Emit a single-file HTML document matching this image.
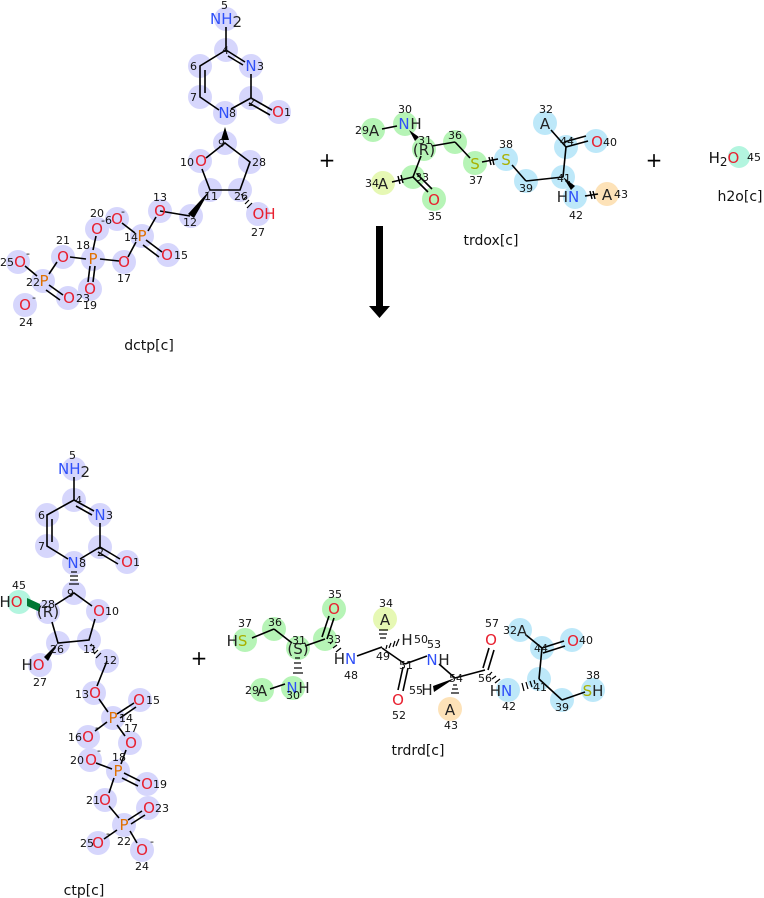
<!DOCTYPE html>
<html><head><meta charset="utf-8"><style>
html,body{margin:0;padding:0;background:#fff}
svg{display:block}
text{font-family:"DejaVu Sans","Liberation Sans",sans-serif}
.a{font-size:15px;text-anchor:middle}
.n{font-size:11px;fill:#111}
.N{fill:#3050f8}.O{fill:#e8202f}.P{fill:#e07000}.S{fill:#a8b000}.C{fill:#222}
.b line,.b polyline{stroke:#000;stroke-width:1.6;fill:none}
.lb{font-size:14px;text-anchor:middle;fill:#111}
</style></head><body>
<svg width="764" height="898" viewBox="0 0 764 898" xmlns="http://www.w3.org/2000/svg">
<!-- ===== dCTP ===== -->
<g fill="#d6d6fc">
<circle cx="226" cy="19" r="12"/><circle cx="226" cy="50" r="12"/><circle cx="251" cy="66" r="12"/><circle cx="251" cy="98" r="12"/><circle cx="279" cy="112" r="12"/><circle cx="225" cy="113" r="12"/><circle cx="200" cy="97" r="12"/><circle cx="200" cy="66" r="12"/><circle cx="225" cy="143" r="12"/><circle cx="200" cy="161" r="12"/><circle cx="250" cy="162" r="12"/><circle cx="210" cy="190" r="12"/><circle cx="240" cy="190" r="12"/><circle cx="258" cy="214" r="12"/><circle cx="191" cy="216" r="12"/><circle cx="160" cy="211" r="12"/><circle cx="142" cy="236" r="12"/><circle cx="168" cy="255" r="12"/><circle cx="117" cy="219" r="12"/><circle cx="97" cy="229" r="12"/><circle cx="124" cy="262" r="12"/><circle cx="93" cy="259" r="12"/><circle cx="90" cy="289" r="12"/><circle cx="63" cy="257" r="12"/><circle cx="43" cy="281" r="12"/><circle cx="68" cy="298" r="12"/><circle cx="18" cy="262" r="12"/><circle cx="25" cy="305" r="12"/>
</g>
<g class="b">
<line x1="226" y1="27" x2="226" y2="50"/><polyline points="251,74 251,98 231,109"/><line x1="226" y1="50" x2="245" y2="62"/><line x1="228" y1="56" x2="243" y2="65"/>
<polyline points="219,110 200,97 200,66 226,50"/><line x1="205" y1="93" x2="205" y2="70"/>
<line x1="251" y1="98" x2="272" y2="110"/><line x1="249" y1="103" x2="270" y2="115"/>
<polyline points="206,158 225,143 250,162 240,190 210,190 202,169"/>
<line x1="160" y1="211" x2="190" y2="216"/>
<line x1="148" y1="231" x2="156" y2="217"/><line x1="146" y1="240" x2="162" y2="252"/><line x1="143" y1="245" x2="159" y2="257"/>
<line x1="135" y1="233" x2="122" y2="223"/><line x1="136" y1="242" x2="128" y2="257"/>
<line x1="119" y1="261" x2="100" y2="259"/><line x1="93" y1="250" x2="96" y2="236"/><line x1="90" y1="266" x2="88" y2="282"/><line x1="95" y1="266" x2="93" y2="282"/>
<line x1="86" y1="259" x2="70" y2="257"/><line x1="57" y1="262" x2="49" y2="274"/><line x1="49" y1="285" x2="63" y2="295"/><line x1="46" y1="290" x2="60" y2="300"/><line x1="25" y1="266" x2="37" y2="276"/>
</g>
<polygon points="225,127 221,140 229,140" fill="#000"/>
<polygon points="210,190 188,214 194,218" fill="#000"/>
<g stroke="#000" stroke-width="1.2"><line x1="243" y1="194" x2="241" y2="195"/><line x1="246" y1="197" x2="243" y2="200"/><line x1="249" y1="200" x2="245" y2="204"/><line x1="252" y1="203" x2="247" y2="208"/></g>
<text class="a N" x="226" y="24">NH<tspan class="C" dy="3">2</tspan></text>
<text class="n" x="221" y="9">5</text><text class="n" x="222" y="54">4</text>
<text class="a N" x="251" y="71">N</text><text class="n" x="257" y="70">3</text>
<text class="n" x="248" y="106">2</text>
<text class="a O" x="278" y="117">O</text><text class="n" x="284" y="116">1</text>
<text class="a N" x="224" y="118">N</text><text class="n" x="229" y="117">8</text>
<text class="n" x="190" y="101">7</text><text class="n" x="190" y="70">6</text>
<text class="n" x="218" y="147">9</text>
<text class="a O" x="201" y="166">O</text><text class="n" x="180" y="166">10</text>
<text class="n" x="252" y="166">28</text><text class="n" x="204" y="200">11</text><text class="n" x="234" y="200">26</text>
<text class="a O" x="264" y="219">OH</text><text class="n" x="251" y="236">27</text>
<text class="n" x="183" y="226">12</text>
<text class="a O" x="160" y="216">O</text><text class="n" x="153" y="201">13</text>
<text class="a P" x="142" y="241">P</text><text class="n" x="124" y="241">14</text>
<text class="a O" x="167" y="260">O</text><text class="n" x="174" y="259">15</text>
<text class="a O" x="117" y="224">O</text><text class="n" x="121" y="215">-</text>
<text class="n" x="90" y="217">20</text><text class="n" x="101" y="224">-6</text>
<text class="a O" x="97" y="234">O</text>
<text class="a O" x="124" y="267">O</text><text class="n" x="117" y="282">17</text>
<text class="a P" x="93" y="264">P</text><text class="n" x="76" y="249">18</text>
<text class="a O" x="90" y="294">O</text><text class="n" x="83" y="309">19</text>
<text class="a O" x="63" y="262">O</text><text class="n" x="56" y="244">21</text>
<text class="a P" x="44" y="286">P</text><text class="n" x="26" y="286">22</text>
<text class="a O" x="69" y="303">O</text><text class="n" x="76" y="302">23</text>
<text class="a O" x="20" y="267">O</text><text class="n" x="0" y="266">25</text><text class="n" x="26" y="257">-</text>
<text class="a O" x="25" y="310">O</text><text class="n" x="32" y="301">-</text><text class="n" x="19" y="326">24</text>
<text class="lb" x="149" y="350">dctp[c]</text>

<text x="327" y="167" font-size="20" text-anchor="middle">+</text>
<rect x="376" y="226" width="7" height="84" fill="#000"/><polygon points="369,306 390,306 379.5,318" fill="#000"/>
<text x="654" y="167" font-size="20" text-anchor="middle">+</text>
<circle cx="739" cy="157" r="11" fill="#b3f5df"/>
<text class="a" x="724" y="163" fill="#111">H<tspan font-size="12" dy="3">2</tspan><tspan class="O" dy="-3">O</tspan></text><text class="n" x="747" y="161">45</text>
<text class="lb" x="740" y="201">h2o[c]</text>

<!-- ===== trdox ===== -->
<g fill="#b6f4b6"><circle cx="373" cy="130" r="12"/><circle cx="405" cy="124" r="12"/><circle cx="424" cy="149" r="12"/><circle cx="455" cy="142" r="12"/><circle cx="475" cy="163" r="12"/><circle cx="413" cy="177" r="12"/><circle cx="434" cy="199" r="12"/></g>
<circle cx="383" cy="183" r="12" fill="#e6f8b4"/>
<g fill="#bde8f9"><circle cx="506" cy="159" r="12"/><circle cx="526" cy="181" r="12"/><circle cx="563" cy="177" r="12"/><circle cx="566" cy="147" r="12"/><circle cx="596" cy="141" r="12"/><circle cx="545" cy="123" r="12"/><circle cx="575" cy="197" r="12"/></g>
<circle cx="607" cy="194" r="12" fill="#fde2b8"/>
<g class="b">
<line x1="382" y1="129" x2="397" y2="126"/><line x1="432" y1="146" x2="455" y2="142"/><line x1="455" y1="142" x2="470" y2="158"/>
<line x1="482" y1="162" x2="498" y2="159"/><line x1="512" y1="165" x2="526" y2="181"/><line x1="526" y1="181" x2="563" y2="177"/>
<line x1="563" y1="177" x2="566" y2="147"/><line x1="551" y1="130" x2="566" y2="147"/><line x1="566" y1="147" x2="588" y2="141"/><line x1="564" y1="142" x2="586" y2="136"/>
<line x1="421" y1="156" x2="413" y2="177"/><line x1="413" y1="177" x2="392" y2="182"/><line x1="413" y1="177" x2="428" y2="192"/><line x1="417" y1="174" x2="432" y2="189"/>
<line x1="585" y1="196" x2="598" y2="194"/>
</g>
<polygon points="409,130 415,141 419,137" fill="#000"/>
<polygon points="563,177 571,190 575,186" fill="#000"/>
<g stroke="#000" stroke-width="1.4"><line x1="398" y1="176" x2="400" y2="184"/><line x1="401" y1="175" x2="403" y2="183"/><line x1="489" y1="157" x2="491" y2="165"/><line x1="492" y1="157" x2="494" y2="165"/><line x1="590" y1="191" x2="592" y2="199"/><line x1="593" y1="191" x2="595" y2="199"/></g>
<text class="a C" x="374" y="136">A</text><text class="n" x="355" y="134">29</text>
<text class="a N" x="404" y="129">N</text><text class="a C" x="416" y="129">H</text><text class="n" x="398" y="113">30</text>
<text class="a C" x="424" y="155" fill="#445">(R)</text><text class="n" x="418" y="144">31</text>
<text class="n" x="448" y="139">36</text>
<text class="a S" x="475" y="169">S</text><text class="n" x="469" y="184">37</text>
<text class="a S" x="506" y="165">S</text><text class="n" x="499" y="148">38</text>
<text class="n" x="519" y="192">39</text>
<text class="a C" x="545" y="129">A</text><text class="n" x="539" y="113">32</text>
<text class="n" x="560" y="145">44</text>
<text class="a O" x="597" y="147">O</text><text class="n" x="603" y="146">40</text>
<text class="n" x="557" y="182">41</text>
<text class="a C" x="568" y="202">H<tspan class="N">N</tspan></text><text class="n" x="569" y="219">42</text>
<text class="a C" x="607" y="200">A</text><text class="n" x="614" y="198">43</text>
<text class="n" x="415" y="181">33</text>
<text class="a C" x="383" y="189">A</text><text class="n" x="365" y="187">34</text>
<text class="a O" x="434" y="205">O</text><text class="n" x="428" y="220">35</text>
<text class="lb" x="491" y="245">trdox[c]</text>

<!-- ===== CTP ===== -->
<g fill="#d6d6fc">
<circle cx="74" cy="469" r="12"/><circle cx="74" cy="500" r="12"/><circle cx="100" cy="515" r="12"/><circle cx="100" cy="547" r="12"/><circle cx="127" cy="562" r="12"/><circle cx="74" cy="563" r="12"/><circle cx="47" cy="546" r="12"/><circle cx="47" cy="515" r="12"/><circle cx="74" cy="593" r="12"/><circle cx="48" cy="612" r="12"/><circle cx="98" cy="611" r="12"/><circle cx="58" cy="643" r="12"/><circle cx="89" cy="640" r="12"/><circle cx="40" cy="665" r="12"/><circle cx="107" cy="661" r="12"/><circle cx="94" cy="693" r="12"/><circle cx="140" cy="700" r="12"/><circle cx="113" cy="718" r="12"/><circle cx="88" cy="737" r="12"/><circle cx="130" cy="743" r="12"/><circle cx="90" cy="760" r="12"/><circle cx="118" cy="771" r="12"/><circle cx="147" cy="784" r="12"/><circle cx="105" cy="800" r="12"/><circle cx="148" cy="808" r="12"/><circle cx="124" cy="825" r="12"/><circle cx="98" cy="843" r="12"/><circle cx="142" cy="850" r="12"/>
</g>
<circle cx="19" cy="602" r="12" fill="#b3f5df"/>
<g class="b">
<line x1="74" y1="477" x2="74" y2="500"/><polyline points="100,523 100,547 80,559"/><line x1="74" y1="500" x2="94" y2="511"/><line x1="76" y1="506" x2="92" y2="515"/>
<polyline points="68,559 47,546 47,515 74,500"/><line x1="52" y1="542" x2="52" y2="519"/>
<line x1="100" y1="547" x2="120" y2="559"/><line x1="98" y1="552" x2="118" y2="564"/>
<polyline points="92,606 74,593 55,605"/><polyline points="52,622 58,643 89,640 95,619"/>
<line x1="107" y1="661" x2="97" y2="686"/><line x1="99" y1="699" x2="108" y2="712"/><line x1="117" y1="714" x2="134" y2="703"/><line x1="120" y1="718" x2="136" y2="707"/>
<line x1="107" y1="722" x2="95" y2="731"/><line x1="117" y1="725" x2="125" y2="736"/><line x1="126" y1="750" x2="121" y2="764"/>
<line x1="96" y1="763" x2="112" y2="769"/><line x1="124" y1="773" x2="140" y2="781"/><line x1="122" y1="778" x2="138" y2="786"/>
<line x1="114" y1="778" x2="109" y2="793"/><line x1="109" y1="806" x2="119" y2="818"/><line x1="128" y1="820" x2="142" y2="811"/><line x1="131" y1="824" x2="145" y2="815"/>
<line x1="117" y1="830" x2="104" y2="839"/><line x1="130" y1="831" x2="137" y2="843"/>
</g>
<g stroke="#000" stroke-width="1.2"><line x1="71" y1="572" x2="77" y2="572"/><line x1="70" y1="576" x2="78" y2="576"/><line x1="70" y1="580" x2="78" y2="580"/><line x1="69" y1="584" x2="79" y2="584"/>
<line x1="92" y1="644" x2="90" y2="646"/><line x1="95" y1="647" x2="92" y2="650"/><line x1="98" y1="650" x2="94" y2="654"/><line x1="101" y1="653" x2="96" y2="658"/></g>
<polygon points="40,607 29,602 30,606 40,611" fill="#000"/><polygon points="27,598 40,604 40,612 27,606" fill="#073"/>
<polygon points="58,643 44,657 48,661" fill="#000"/>
<text class="a N" x="74" y="474">NH<tspan class="C" dy="3">2</tspan></text>
<text class="n" x="69" y="459">5</text><text class="n" x="75" y="504">4</text>
<text class="a N" x="100" y="520">N</text><text class="n" x="106" y="519">3</text>
<text class="n" x="97" y="556">2</text>
<text class="a O" x="127" y="567">O</text><text class="n" x="133" y="566">1</text>
<text class="a N" x="73" y="568">N</text><text class="n" x="79" y="567">8</text>
<text class="n" x="38" y="550">7</text><text class="n" x="38" y="519">6</text>
<text class="n" x="67" y="597">9</text>
<text class="a C" x="11" y="607">H<tspan class="O">O</tspan></text><text class="n" x="12" y="589">45</text>
<text class="a C" x="48" y="617" fill="#445">(R)</text><text class="n" x="41" y="608">28</text>
<text class="a O" x="99" y="616">O</text><text class="n" x="105" y="615">10</text>
<text class="n" x="50" y="653">26</text><text class="n" x="83" y="653">11</text><text class="n" x="103" y="664">12</text>
<text class="a C" x="33" y="670">H<tspan class="O">O</tspan></text><text class="n" x="33" y="686">27</text>
<text class="a O" x="95" y="698">O</text><text class="n" x="75" y="698">13</text>
<text class="a O" x="139" y="705">O</text><text class="n" x="146" y="704">15</text>
<text class="a P" x="113" y="723">P</text><text class="n" x="119" y="722">14</text><text class="n" x="124" y="732">17</text>
<text class="a O" x="88" y="742">O</text><text class="n" x="68" y="741">16</text><text class="n" x="95" y="731">-</text>
<text class="a O" x="131" y="748">O</text>
<text class="a O" x="91" y="765">O</text><text class="n" x="70" y="764">20</text><text class="n" x="97" y="754">-</text>
<text class="a P" x="118" y="776">P</text><text class="n" x="112" y="761">18</text>
<text class="a O" x="147" y="789">O</text><text class="n" x="153" y="788">19</text>
<text class="a O" x="105" y="805">O</text><text class="n" x="86" y="804">21</text>
<text class="a O" x="149" y="813">O</text><text class="n" x="155" y="812">23</text>
<text class="a P" x="124" y="830">P</text><text class="n" x="117" y="845">22</text>
<text class="a O" x="98" y="848">O</text><text class="n" x="80" y="847">25</text><text class="n" x="106" y="837">-</text>
<text class="a O" x="142" y="855">O</text><text class="n" x="150" y="845">-</text><text class="n" x="135" y="870">24</text>
<text class="lb" x="84" y="895">ctp[c]</text>

<text x="199" y="665" font-size="20" text-anchor="middle">+</text>

<!-- ===== trdrd ===== -->
<g fill="#b6f4b6"><circle cx="245" cy="640" r="12"/><circle cx="274" cy="629" r="12"/><circle cx="298" cy="648" r="12"/><circle cx="325" cy="639" r="12"/><circle cx="334" cy="609" r="12"/><circle cx="293" cy="688" r="12"/><circle cx="262" cy="690" r="12"/></g>
<circle cx="385" cy="619" r="12" fill="#e6f8b4"/>
<circle cx="450" cy="709" r="12" fill="#fde2b8"/>
<g fill="#bde8f9"><circle cx="508" cy="690" r="12"/><circle cx="539" cy="679" r="12"/><circle cx="542" cy="648" r="12"/><circle cx="520" cy="630" r="12"/><circle cx="572" cy="640" r="12"/><circle cx="562" cy="700" r="12"/><circle cx="593" cy="690" r="12"/></g>
<g class="b">
<line x1="252" y1="638" x2="274" y2="629"/><line x1="274" y1="629" x2="292" y2="643"/><line x1="305" y1="646" x2="325" y2="639"/>
<line x1="322" y1="637" x2="329" y2="616"/><line x1="327" y1="639" x2="334" y2="618"/>
<line x1="270" y1="689" x2="285" y2="684"/>
<line x1="357" y1="656" x2="382" y2="647"/><line x1="382" y1="648" x2="405" y2="664"/><line x1="405" y1="664" x2="427" y2="656"/>
<line x1="403" y1="667" x2="398" y2="690"/><line x1="408" y1="668" x2="403" y2="691"/>
<line x1="439" y1="664" x2="455" y2="678"/><line x1="455" y1="678" x2="485" y2="670"/>
<line x1="483" y1="668" x2="489" y2="648"/><line x1="488" y1="670" x2="494" y2="650"/>
<line x1="539" y1="679" x2="542" y2="648"/><line x1="526" y1="635" x2="542" y2="648"/><line x1="542" y1="648" x2="564" y2="641"/><line x1="543" y1="653" x2="565" y2="646"/>
<line x1="539" y1="679" x2="562" y2="700"/><line x1="562" y1="700" x2="585" y2="692"/>
</g>
<g stroke="#000" stroke-width="1.2">
<line x1="330" y1="644" x2="333" y2="641"/><line x1="333" y1="648" x2="337" y2="645"/><line x1="336" y1="652" x2="341" y2="648"/>
<line x1="380" y1="638" x2="386" y2="638"/><line x1="379" y1="634" x2="387" y2="634"/><line x1="379" y1="630" x2="388" y2="630"/>
<line x1="387" y1="645" x2="386" y2="649"/><line x1="391" y1="643" x2="389" y2="648"/><line x1="395" y1="641" x2="393" y2="647"/><line x1="399" y1="639" x2="396" y2="646"/>
<line x1="453" y1="685" x2="457" y2="685"/><line x1="452" y1="689" x2="458" y2="689"/><line x1="451" y1="693" x2="459" y2="693"/>
<line x1="489" y1="675" x2="492" y2="672"/><line x1="492" y1="679" x2="496" y2="676"/><line x1="495" y1="683" x2="500" y2="679"/>
<line x1="534" y1="680" x2="535" y2="684"/><line x1="530" y1="681" x2="532" y2="687"/><line x1="526" y1="682" x2="528" y2="689"/><line x1="522" y1="683" x2="524" y2="691"/>
<line x1="295" y1="658" x2="300" y2="658"/><line x1="294" y1="663" x2="301" y2="663"/><line x1="294" y1="668" x2="302" y2="668"/><line x1="293" y1="673" x2="303" y2="673"/>
</g>
<polygon points="455,678 433,686 434,692" fill="#000"/>
<text class="a C" x="237" y="646">H<tspan class="S">S</tspan></text><text class="n" x="238" y="627">37</text>
<text class="n" x="268" y="626">36</text>
<text class="a C" x="298" y="654" fill="#445">(S)</text><text class="n" x="292" y="644">31</text>
<text class="n" x="327" y="643">33</text>
<text class="a O" x="334" y="614">O</text><text class="n" x="328" y="598">35</text>
<text class="a N" x="292" y="693">N</text><text class="a C" x="304" y="693">H</text><text class="n" x="286" y="699">30</text>
<text class="a C" x="262" y="696">A</text><text class="n" x="245" y="694">29</text>
<text class="a C" x="345" y="664">H<tspan class="N">N</tspan></text><text class="n" x="344" y="679">48</text>
<text class="a C" x="385" y="625">A</text><text class="n" x="379" y="607">34</text>
<text class="n" x="376" y="660">49</text>
<text class="a C" x="407" y="645">H</text><text class="n" x="414" y="643">50</text>
<text class="n" x="399" y="669">51</text>
<text class="a O" x="398" y="705">O</text><text class="n" x="392" y="719">52</text>
<text class="n" x="427" y="648">53</text><text class="a N" x="432" y="665">N</text><text class="a C" x="444" y="665">H</text>
<text class="n" x="449" y="682">54</text>
<text class="a C" x="427" y="695">H</text><text class="n" x="409" y="694">55</text>
<text class="a C" x="450" y="715">A</text><text class="n" x="444" y="729">43</text>
<text class="n" x="478" y="682">56</text>
<text class="a O" x="491" y="645">O</text><text class="n" x="485" y="627">57</text>
<text class="a C" x="501" y="696">H<tspan class="N">N</tspan></text><text class="n" x="502" y="710">42</text>
<text class="n" x="533" y="691">41</text>
<text class="n" x="534" y="652">44</text>
<text class="a C" x="522" y="636">A</text><text class="n" x="503" y="634">32</text>
<text class="a O" x="573" y="646">O</text><text class="n" x="579" y="644">40</text>
<text class="n" x="555" y="711">39</text>
<text class="a S" x="593" y="696">S<tspan class="C">H</tspan></text><text class="n" x="586" y="679">38</text>
<text class="lb" x="418" y="755">trdrd[c]</text>
</svg>
</body></html>
